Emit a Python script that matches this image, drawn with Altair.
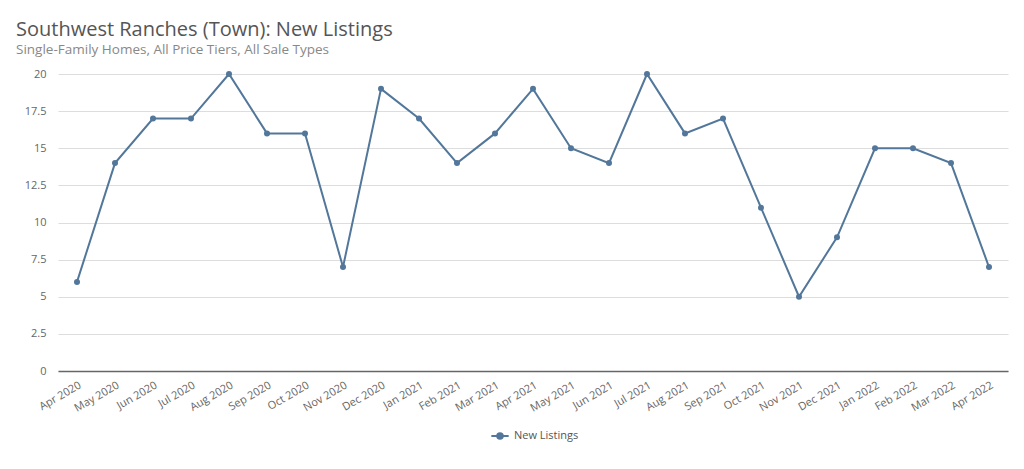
import altair as alt
import pandas as pd

months = ["Apr 2020", "May 2020", "Jun 2020", "Jul 2020", "Aug 2020", "Sep 2020", "Oct 2020",
          "Nov 2020", "Dec 2020", "Jan 2021", "Feb 2021", "Mar 2021", "Apr 2021", "May 2021",
          "Jun 2021", "Jul 2021", "Aug 2021", "Sep 2021", "Oct 2021", "Nov 2021", "Dec 2021",
          "Jan 2022", "Feb 2022", "Mar 2022", "Apr 2022"]
new_listings = [6, 14, 17, 17, 20, 16, 16, 7, 19, 17, 14, 16, 19, 15, 14, 20, 16, 17, 11, 5, 9,
                15, 15, 14, 7]
series_name = "New Listings"

df = pd.DataFrame({"month": months, "value": new_listings, "series": series_name})

color = "#52779a"
point_color = "#44698e"
font = "Open Sans"

legend_path = "M -1 0 L 1 0 M 0.32 0 A 0.32 0.32 0 1 1 -0.32 0 A 0.32 0.32 0 1 1 0.32 0 Z"

chart = alt.Chart(df).mark_line(
    point=alt.OverlayMarkDef(filled=True, size=36, color=point_color),
    strokeWidth=2,
).encode(
    x=alt.X("month:N", sort=months, title=None,
            scale=alt.Scale(type="point", padding=0.5),
            axis=alt.Axis(labelAngle=-30, labelAlign="right", labelBaseline="top",
                          ticks=False, domain=True, domainColor="#666666", domainWidth=1.5,
                          labelColor="#666666", labelFontSize=11, labelFont=font, labelPadding=8,
                          grid=False)),
    y=alt.Y("value:Q", title=None,
            scale=alt.Scale(domain=[0, 20]),
            axis=alt.Axis(values=[0, 2.5, 5, 7.5, 10, 12.5, 15, 17.5, 20], format=".3~g",
                          ticks=False, domain=False, gridColor="#dddddd",
                          labelColor="#666666", labelFontSize=11, labelFont=font,
                          labelPadding=12)),
    color=alt.Color("series:N", title=None,
                    scale=alt.Scale(domain=[series_name], range=[color]),
                    legend=alt.Legend(orient="none", legendX=432, legendY=352,
                                      symbolType=legend_path,
                                      symbolSize=300, symbolFillColor=point_color,
                                      symbolStrokeWidth=2,
                                      labelFont=font, labelFontSize=11, labelColor="#555555")),
).properties(
    width=950,
    height=297,
    title=alt.TitleParams(
        text="Southwest Ranches (Town): New Listings",
        subtitle="Single-Family Homes, All Price Tiers, All Sale Types",
        anchor="start", frame="group", dx=-42, offset=12,
        font=font, fontSize=20, fontWeight="normal", color="#555555",
        subtitleFont=font, subtitleFontSize=13.5, subtitleColor="#888888", subtitlePadding=3,
    ),
    padding={"left": 50, "top": 66, "right": 8, "bottom": 80},
    autosize=alt.AutoSizeParams(type="none"),
).configure_view(stroke=None)

chart.save("out.html", embed_options={"renderer": "svg", "actions": False})
